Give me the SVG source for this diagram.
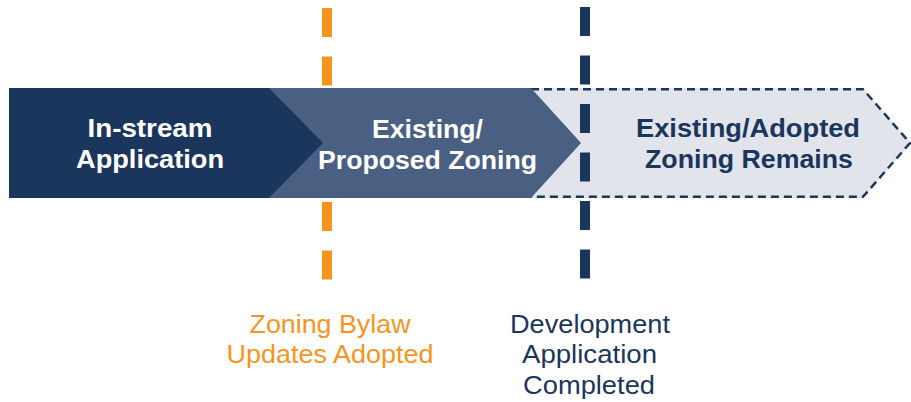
<svg xmlns="http://www.w3.org/2000/svg" width="911" height="402" viewBox="0 0 911 402">
<style>
.t{font-family:"Liberation Sans",Arial,sans-serif;text-anchor:middle}
.b{font-weight:700;font-size:26px}
.r{font-weight:400;font-size:26px}
.w{fill:#ffffff}
.n{fill:#1b365d}
.o{fill:#f7941d}
.mk{fill:none;stroke-width:10;stroke-dasharray:29 19.5}
</style>
<rect width="911" height="402" fill="#ffffff"/>
<g id="connectors">
<line id="bylaw-line" class="mk" x1="327" y1="8" x2="327" y2="280" stroke="#f7941d"/>
</g>
<g id="node-remains">
<polygon points="531,88 863,88 911,143 863,198 531,198" fill="#e1e5eb"/>
<polyline points="531,89.2 863,89.2 910,143 863,196.8 531,196.8" fill="none" stroke="#1b365d" stroke-width="2.5" stroke-dasharray="8 5"/>
<text class="t b n" x="748" y="137" textLength="224" lengthAdjust="spacingAndGlyphs">Existing/Adopted</text>
<text class="t b n" x="749" y="168" textLength="208" lengthAdjust="spacingAndGlyphs">Zoning Remains</text>
</g>
<g id="node-existing">
<polygon points="260,88 531,88 581,143 531,198 260,198" fill="#4a6083"/>
<text class="t b w" x="427.5" y="138" textLength="111" lengthAdjust="spacingAndGlyphs">Existing/</text>
<text class="t b w" x="427.5" y="169" textLength="219" lengthAdjust="spacingAndGlyphs">Proposed Zoning</text>
</g>
<g id="node-instream">
<polygon points="9,88 269,88 323,143 269,198 9,198" fill="#1b365d"/>
<text class="t b w" x="150" y="137" textLength="125" lengthAdjust="spacingAndGlyphs">In-stream</text>
<text class="t b w" x="150" y="168" textLength="148" lengthAdjust="spacingAndGlyphs">Application</text>
</g>
<g id="connectors-top">
<line id="dev-line" class="mk" x1="585" y1="7" x2="585" y2="280" stroke="#1b365d"/>
</g>
<g id="label-bylaw">
<text class="t r o" x="330" y="333" textLength="161" lengthAdjust="spacingAndGlyphs">Zoning Bylaw</text>
<text class="t r o" x="330" y="363" textLength="207" lengthAdjust="spacingAndGlyphs">Updates Adopted</text>
</g>
<g id="label-dev">
<text class="t r n" x="590" y="333" textLength="160" lengthAdjust="spacingAndGlyphs">Development</text>
<text class="t r n" x="589.5" y="363" textLength="135" lengthAdjust="spacingAndGlyphs">Application</text>
<text class="t r n" x="589" y="394" textLength="132" lengthAdjust="spacingAndGlyphs">Completed</text>
</g>
</svg>
